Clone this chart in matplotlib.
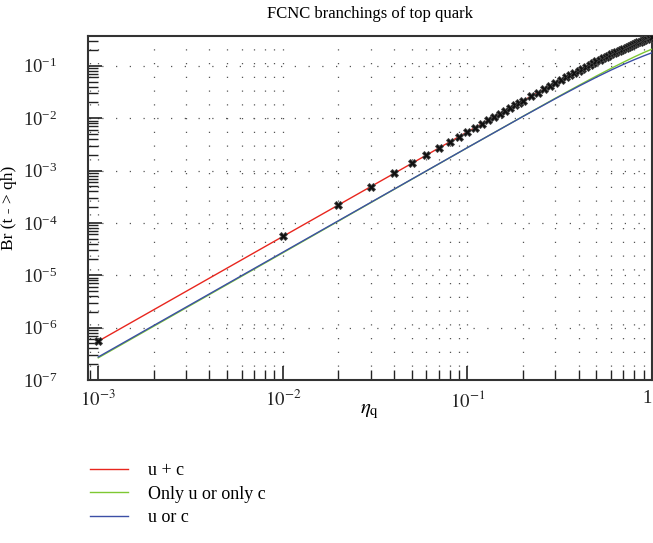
import matplotlib
matplotlib.use("Agg")
import matplotlib.pyplot as plt
from matplotlib.ticker import LogLocator, NullFormatter, FixedFormatter

plt.rcParams['font.family'] = ['Liberation Serif', 'DejaVu Serif']
plt.rcParams['mathtext.fontset'] = 'stix'

# coupling eta_q and branching ratios
eta_line = [0.001, 0.01, 0.05, 0.1, 0.2, 0.3, 0.4, 0.5, 0.6, 0.7, 0.8, 0.9, 1.0]
br_uc = [5.5e-7, 5.5e-5, 1.37e-3, 5.47e-3, 0.0215, 0.0472, 0.0809, 0.1209,
         0.1653, 0.2123, 0.2604, 0.3082, 0.3548]
br_only = [2.65e-7, 2.68e-5, 6.80e-4, 2.73e-3, 0.01083, 0.02405, 0.0419,
           0.0638, 0.0891, 0.1170, 0.1470, 0.1780, 0.2080]
br_or = [2.75e-7, 2.75e-5, 6.85e-4, 2.735e-3, 0.01076, 0.0236, 0.0405,
         0.0605, 0.0827, 0.1062, 0.1302, 0.1541, 0.1774]

# marker points on the u + c curve
eta_pts = [0.001, 0.01, 0.02, 0.03, 0.04, 0.05, 0.06, 0.07, 0.08, 0.09, 0.10,
           0.11, 0.12, 0.13, 0.14, 0.15, 0.16, 0.17, 0.18, 0.19, 0.20,
           0.22, 0.24, 0.26, 0.28, 0.30, 0.32, 0.34, 0.36, 0.38, 0.40,
           0.42, 0.44, 0.46, 0.48, 0.50, 0.52, 0.54, 0.56, 0.58, 0.60,
           0.62, 0.64, 0.66, 0.68, 0.70, 0.72, 0.74, 0.76, 0.78, 0.80,
           0.82, 0.84, 0.86, 0.88, 0.90, 0.92, 0.94, 0.96, 0.98, 1.00]
br_pts = [5.5e-7, 5.5e-5, 2.2e-4, 4.95e-4, 8.8e-4, 1.37e-3, 1.98e-3, 2.69e-3,
          3.51e-3, 4.44e-3, 5.47e-3, 6.61e-3, 7.86e-3, 9.21e-3, 1.066e-2,
          1.22e-2, 1.39e-2, 1.56e-2, 1.75e-2, 1.95e-2, 0.0215,
          0.0259, 0.0307, 0.0358, 0.0413, 0.0472, 0.0533, 0.0598, 0.0665,
          0.0736, 0.0809, 0.0884, 0.0962, 0.1043, 0.1125, 0.1209, 0.1295,
          0.1382, 0.1471, 0.1561, 0.1653, 0.1745, 0.1839, 0.1933, 0.2027,
          0.2123, 0.2219, 0.2315, 0.2411, 0.2507, 0.2604, 0.2700, 0.2796,
          0.2892, 0.2987, 0.3082, 0.3176, 0.3270, 0.3364, 0.3456, 0.3548]

labels = ['u + c', 'Only u or only c', 'u or c']
colors = ['#e8261e', '#7ec832', '#3c4fa6']
x_ticks = [1e-3, 1e-2, 1e-1, 1]
x_ticklabels = ['$10^{-3}$', '$10^{-2}$', '$10^{-1}$', '1']

fig = plt.figure(figsize=(6.53, 5.43), dpi=100)
ax = fig.add_axes([88 / 653, 1 - 380 / 543, 564 / 653, 344 / 543])

ax.plot(eta_line, br_uc, color=colors[0], lw=1.0, label=labels[0], zorder=3)
ax.plot(eta_line, br_only, color=colors[1], lw=1.0, label=labels[1], zorder=3)
ax.plot(eta_line, br_or, color=colors[2], lw=1.0, label=labels[2], zorder=4)
ax.plot(eta_pts, br_pts, ls='none', marker='X', ms=5.5, color='#111111',
        mec='#444444', mew=0.6, zorder=5)

ax.set_xscale('log')
ax.set_yscale('log')
ax.set_xlim(8.8e-4, 1.0)
ax.set_ylim(1e-7, 0.37)

ax.xaxis.set_minor_locator(LogLocator(base=10, subs=range(2, 10), numticks=20))
ax.set_xticks(x_ticks)
ax.xaxis.set_major_formatter(FixedFormatter(x_ticklabels))
ax.xaxis.set_minor_formatter(NullFormatter())
ax.yaxis.set_major_locator(LogLocator(base=10, numticks=12))
ax.yaxis.set_minor_locator(LogLocator(base=10, subs=range(2, 10), numticks=20))
ax.yaxis.set_minor_formatter(NullFormatter())

ax.tick_params(which='both', direction='in', labelsize=13.5, colors='#222222',
               top=False, right=False)
ax.tick_params(which='major', length=10, width=1.2)
ax.tick_params(which='minor', length=7, width=1.0)
ax.tick_params(axis='y', which='major', pad=22)
ax.tick_params(axis='x', which='major', pad=7)

ax.grid(True, which='major', axis='y', color='#555555', lw=0.9,
        linestyle=(0, (1, 10)))
ax.grid(True, which='both', axis='x', color='#555555', lw=0.9,
        linestyle=(0, (1, 10)))
for s in ax.spines.values():
    s.set_color('#333333')
    s.set_linewidth(1.5)

fig.canvas.draw()
ax.get_xticklabels()[-1].set_horizontalalignment('right')

ax.set_title('FCNC branchings of top quark', fontsize=12, pad=13)
ax.set_xlabel(r'$\eta_{\mathrm{q}}$', fontsize=15, labelpad=-6)
ax.set_ylabel('Br (t - > qh)', fontsize=12.5)
ax.yaxis.set_label_coords(-0.125, 0.5)

fig.legend(loc='upper left', bbox_to_anchor=(74 / 653, 1 - 446 / 543),
           frameon=False, fontsize=13, handlelength=2.1, handletextpad=1.1,
           labelspacing=0.35)

fig.savefig('out.png', dpi=100)
